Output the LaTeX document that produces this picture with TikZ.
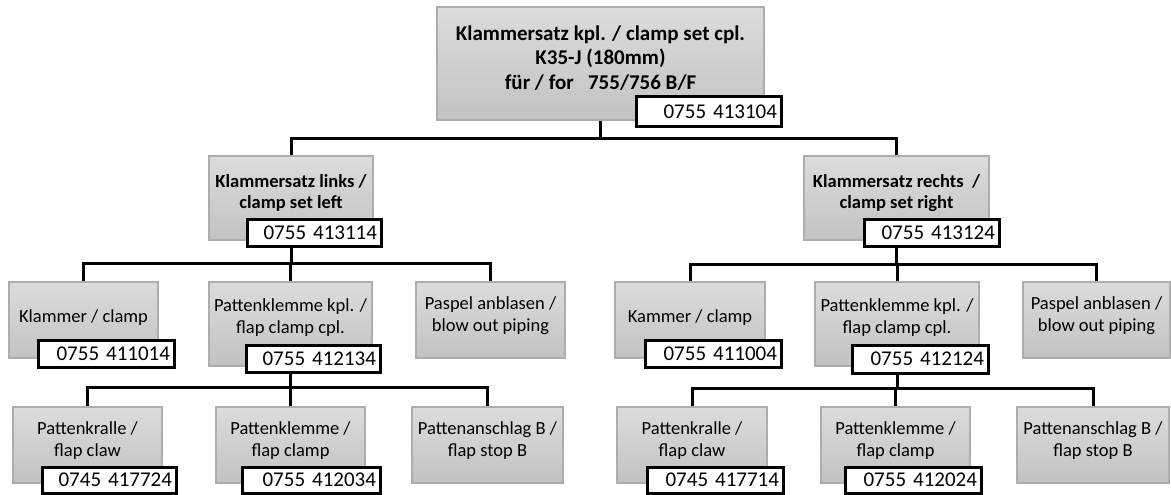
\documentclass[tikz,border=0pt]{standalone}
\usepackage{fontspec}
\setmainfont{Carlito}
\definecolor{gtop}{HTML}{DCDCDC}
\definecolor{gbot}{HTML}{C2C2C2}
\definecolor{gborder}{HTML}{ADADAD}
\pgfdeclarelayer{bg}
\pgfsetlayers{bg,main}
\tikzset{
  gb/.style={draw=gborder, line width=1.2pt, top color=gtop, bottom color=gbot, inner sep=0pt, outer sep=0pt},
  lbl/.style={align=center, inner sep=0pt, font=\fontsize{18.5}{22}\selectfont},
  blbl/.style={align=center, inner sep=0pt, font=\fontsize{18.5}{21}\selectfont\bfseries},
  tlbl/.style={align=center, inner sep=0pt, font=\fontsize{21}{24.5}\selectfont\bfseries},
  nb/.style={draw=black, fill=white, line width=3pt, inner xsep=4pt, inner ysep=0pt, outer sep=0pt, align=right, font=\fontsize{21}{24}\selectfont},
  conn/.style={draw=black, line width=3pt}
}
\newcommand\gbx[8]{% name x1 y1 x2 y2 texty style text
  \node[gb, minimum width={#4-#2}, minimum height={#5-#3}] (#1) at ({(#2+#4)/2},{(#3+#5)/2}) {};
  \node[#7] (#1t) at ({(#2+#4)/2},#6) {#8};}
\newcommand\nbx[6]{% name x1 y1 x2 y2 text
  \node[nb, minimum width={#4-#2}, minimum height={#5-#3}, text width={#4-#2-8}] (#1) at ({(#2+#4)/2},{(#3+#5)/2}) {#6};}
\begin{document}
\begin{tikzpicture}[x=1pt,y=-1pt]
\useasboundingbox (0,0) rectangle (1171,495);
% level 1
\gbx{top}{437}{7}{764}{120}{58}{tlbl}{Klammersatz kpl. / clamp set cpl.\\K35-J (180mm)\\für / for\ \ \ 755/756 B/F}
\nbx{ntop}{636}{97}{781}{126}{0755 413104}
% level 2
\gbx{ml}{209}{156}{373}{240}{193}{blbl}{Klammersatz links /\\clamp set left}
\nbx{nml}{247}{219}{381}{246}{0755 413114}
\gbx{mr}{804}{156}{989}{240}{193}{blbl}{Klammersatz rechts\ \ /\\clamp set right}
\nbx{nmr}{864}{219}{999}{246}{0755 413124}
% level 3 left
\gbx{kl}{9}{282}{158}{358}{318}{lbl}{Klammer / clamp}
\nbx{nkl}{38}{340}{174}{367}{0755 411014}
\gbx{pkl}{209}{282}{372}{366}{318}{lbl}{Pattenklemme kpl. /\\flap clamp cpl.}
\nbx{npkl}{246}{345}{380}{372}{0755 412134}
\gbx{pal}{416}{282}{565}{358}{315.5}{lbl}{Paspel anblasen /\\blow out piping}
% level 4 left
\gbx{krl}{13}{407}{162}{483}{441}{lbl}{Pattenkralle /\\flap claw}
\nbx{nkrl}{42}{467}{176}{493}{0745 417724}
\gbx{pcl}{216}{407}{365}{483}{441}{lbl}{Pattenklemme /\\flap clamp}
\nbx{npcl}{242}{467}{380}{493}{0755 412034}
\gbx{psl}{412}{407}{563}{483}{441}{lbl}{Pattenanschlag B /\\flap stop B}
% level 3 right
\gbx{kr}{615}{282}{765}{358}{318}{lbl}{Kammer / clamp}
\nbx{nkr}{645}{340}{781}{367}{0755 411004}
\gbx{pkr}{815}{282}{979}{366}{318}{lbl}{Pattenklemme kpl. /\\flap clamp cpl.}
\nbx{npkr}{852}{345}{988}{373}{0755 412124}
\gbx{par}{1023}{282}{1170}{358}{315.5}{lbl}{Paspel anblasen /\\blow out piping}
% level 4 right
\gbx{krr}{617}{407}{767}{483}{441}{lbl}{Pattenkralle /\\flap claw}
\nbx{nkrr}{647}{467}{783}{493}{0745 417714}
\gbx{pcr}{821}{407}{970}{483}{441}{lbl}{Pattenklemme /\\flap clamp}
\nbx{npcr}{845}{467}{981}{493}{0755 412024}
\gbx{psr}{1017}{407}{1169}{483}{441}{lbl}{Pattenanschlag B /\\flap stop B}
% connectors
\begin{pgfonlayer}{bg}
\draw[conn] (top.south) -- ++(0,18) -| (ml.north);
\draw[conn] (top.south) -- ++(0,18) -| (mr.north);
\foreach \c in {kl,pkl,pal} \draw[conn] (ml.south) -- ++(0,23) -| (\c.north);
\foreach \c in {kr,pkr,par} \draw[conn] (mr.south) -- ++(0,24) -| (\c.north);
\foreach \c in {krl,pcl,psl} \draw[conn] (pkl.south) -- ++(0,21) -| (\c.north);
\foreach \c in {krr,pcr,psr} \draw[conn] (pkr.south) -- ++(0,22) -| (\c.north);
\end{pgfonlayer}
\end{tikzpicture}
\end{document}
